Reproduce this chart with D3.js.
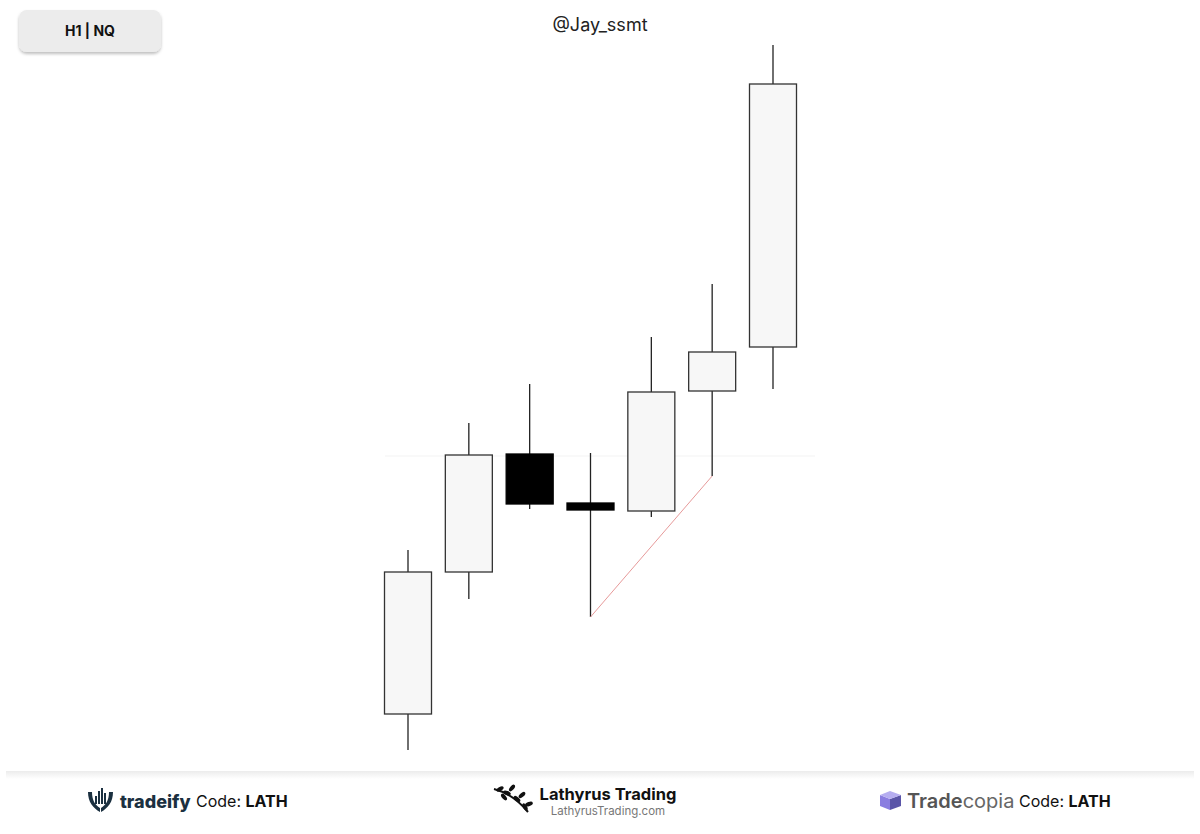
<!DOCTYPE html>
<html>
<head>
<meta charset="utf-8">
<script src="https://cdn.jsdelivr.net/npm/d3@7"></script>
<style>
  body { margin: 0; background: #fff; font-family: Inter, "Noto Sans", sans-serif; }
  svg { display: block; }
</style>
</head>
<body>
<div id="chart"></div>
<script>
// candles, left to right (H1 NQ)
const candles = ["c1", "c2", "c3", "c4", "c5", "c6", "c7"];
const opens  = [21036, 21178, 21296, 21247, 21239, 21359, 21403];
const closes = [21178, 21295, 21246, 21240, 21358, 21398, 21666];
const highs  = [21200, 21327, 21366, 21297, 21413, 21466, 21705];
const lows   = [21000, 21151, 21241, 21133, 21233, 21274, 21361];
// trendline from low of candle 4 to low of candle 6
const trendFrom = 3, trendTo = 5;

const W = 1200, H = 834;
const svg = d3.select("#chart").append("svg").attr("width", W).attr("height", H);

const x = d3.scalePoint().domain(candles).range([408, 773]);
const y = d3.scaleLinear().domain([21000, 21705]).range([750, 45]);
const bodyW = 47;

// very faint guide line
svg.append("line")
  .attr("x1", 385).attr("x2", 815)
  .attr("y1", y(21294)).attr("y2", y(21294))
  .attr("stroke", "#f3f3f3").attr("stroke-width", 1);

const g = svg.append("g");

candles.forEach((c, i) => {
  const bull = closes[i] >= opens[i];
  const cx = x(c);
  g.append("line")
    .attr("x1", cx).attr("x2", cx)
    .attr("y1", y(highs[i])).attr("y2", y(lows[i]))
    .attr("stroke", "#222").attr("stroke-width", 1.3);
  const top = y(Math.max(opens[i], closes[i]));
  const bot = y(Math.min(opens[i], closes[i]));
  g.append("rect")
    .attr("x", cx - bodyW / 2).attr("y", top)
    .attr("width", bodyW).attr("height", Math.max(bot - top, 1))
    .attr("fill", bull ? "#f7f7f7" : "#000")
    .attr("stroke", bull ? "#333" : "#000")
    .attr("stroke-width", 1.3);
});

svg.append("line")
  .attr("x1", x(candles[trendFrom])).attr("y1", y(lows[trendFrom]))
  .attr("x2", x(candles[trendTo])).attr("y2", y(lows[trendTo]))
  .attr("stroke", "#e79a9a").attr("stroke-width", 1);

// header
const defs = svg.append("defs");
const sh = defs.append("filter").attr("id", "sh").attr("x", "-10%").attr("y", "-20%").attr("width", "120%").attr("height", "160%");
sh.append("feDropShadow").attr("dx", 0).attr("dy", 2).attr("stdDeviation", 1.5).attr("flood-color", "#000").attr("flood-opacity", 0.25);

svg.append("rect")
  .attr("x", 19).attr("y", 10).attr("width", 142).attr("height", 42).attr("rx", 8)
  .attr("fill", "#ececec").attr("filter", "url(#sh)");
svg.append("text")
  .attr("x", 90).attr("y", 36).attr("text-anchor", "middle")
  .attr("font-size", 14).attr("font-weight", 700).attr("fill", "#111")
  .text("H1 | NQ");

svg.append("text")
  .attr("x", 600).attr("y", 31).attr("text-anchor", "middle")
  .attr("font-size", 18).attr("fill", "#222")
  .text("@Jay_ssmt");

// footer separator
const grad = defs.append("linearGradient").attr("id", "sep").attr("x1", 0).attr("x2", 0).attr("y1", 0).attr("y2", 1);
grad.append("stop").attr("offset", 0).attr("stop-color", "#ececec");
grad.append("stop").attr("offset", 1).attr("stop-color", "#fff");
svg.append("rect").attr("x", 6).attr("y", 771).attr("width", 1188).attr("height", 8).attr("fill", "url(#sep)");

// tradeify
const tf = svg.append("g").attr("transform", "translate(88,788)");
tf.append("path").attr("d", "M0,4 C0,14 5,20 12,24 L12,20 C7,17 4,12 4,4 Z").attr("fill", "#1b3040");
tf.append("path").attr("d", "M25,4 C25,14 20,20 13,24 L13,20 C18,17 21,12 21,4 Z").attr("fill", "#1b3040");
[[7, 8, 8], [10, 3, 13], [13, 0, 16], [16, 5, 11]].forEach(([bx, by, bh]) => {
  tf.append("rect").attr("x", bx).attr("y", by).attr("width", 2).attr("height", bh).attr("fill", "#1b3040");
});
svg.append("text").attr("x", 120).attr("y", 808).attr("font-size", 18)
  .attr("font-weight", 800).attr("fill", "#1b3040").text("tradeify");
const tfc = svg.append("text").attr("x", 196).attr("y", 807).attr("font-size", 16);
tfc.append("tspan").attr("fill", "#111").text("Code: ");
tfc.append("tspan").attr("font-weight", 700).attr("fill", "#111").text("LATH");

// Lathyrus
const lt = svg.append("g").attr("transform", "translate(492,786)");
lt.append("path").attr("d", "M2,3 C14,6 26,14 36,26").attr("stroke", "#111").attr("stroke-width", 2).attr("fill", "none");
[[8, 3, -30], [15, 7, 20], [20, 2, -50], [25, 13, 40], [30, 9, -40], [33, 21, 60], [37, 18, -20], [12, 11, 50]].forEach(([lx, ly, r]) => {
  lt.append("ellipse").attr("cx", lx).attr("cy", ly).attr("rx", 4).attr("ry", 2)
    .attr("transform", `rotate(${r},${lx},${ly})`).attr("fill", "#111");
});
svg.append("text").attr("x", 608).attr("y", 800).attr("text-anchor", "middle")
  .attr("font-size", 16.5).attr("font-weight", 700).attr("fill", "#111").text("Lathyrus Trading");
svg.append("text").attr("x", 608).attr("y", 815).attr("text-anchor", "middle")
  .attr("font-size", 11.5).attr("fill", "#777").text("LathyrusTrading.com");

// Tradecopia
const tc = svg.append("g").attr("transform", "translate(880,790)");
tc.append("path").attr("d", "M0,5 L10,9 L10,20 L0,16 Z").attr("fill", "#8a7de0");
tc.append("path").attr("d", "M10,9 L21,5 L21,16 L10,20 Z").attr("fill", "#5a55a8");
tc.append("path").attr("d", "M0,5 L10,1 L21,5 L10,9 Z").attr("fill", "#b5adf0");
const tct = svg.append("text").attr("x", 907).attr("y", 808).attr("font-size", 20);
tct.append("tspan").attr("font-weight", 600).attr("fill", "#555").text("Trade");
tct.append("tspan").attr("fill", "#666").text("copia");
const tcc = svg.append("text").attr("x", 1019).attr("y", 807).attr("font-size", 16);
tcc.append("tspan").attr("fill", "#111").text("Code: ");
tcc.append("tspan").attr("font-weight", 700).attr("fill", "#111").text("LATH");
</script>
</body>
</html>
